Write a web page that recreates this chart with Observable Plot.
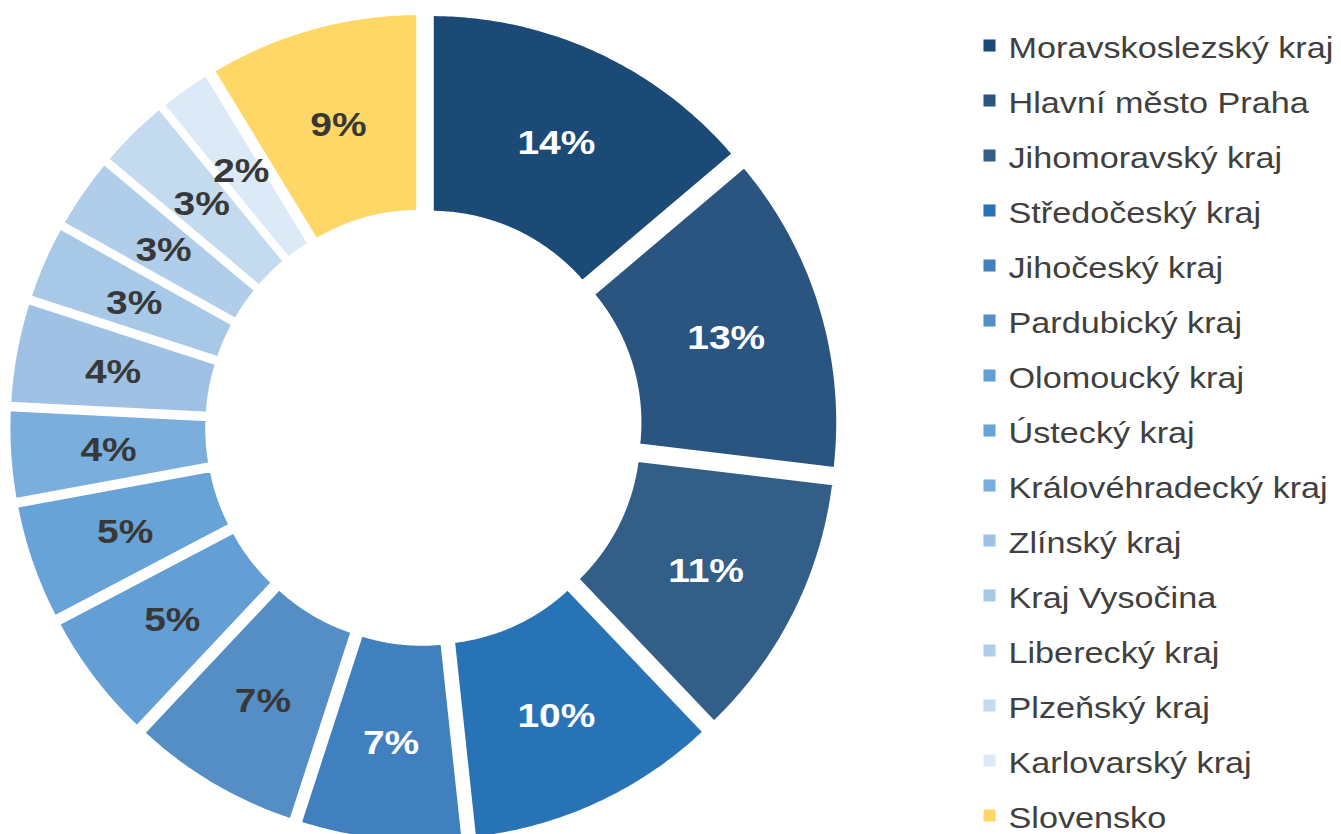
<!DOCTYPE html>
<html>
<head>
<meta charset="utf-8">
<script src="https://cdn.jsdelivr.net/npm/d3@7"></script>
<script src="https://cdn.jsdelivr.net/npm/@observablehq/plot@0.6"></script>
<style>
  html, body { margin: 0; padding: 0; background: #ffffff; }
  #chart { position: relative; width: 1341px; height: 834px; overflow: hidden; }
  #donut { position: absolute; left: 0; top: 0; }
  #legend { position: absolute; left: 975px; top: 0; }
  svg { overflow: visible; }
</style>
</head>
<body>
<div id="chart"><div id="donut"></div><div id="legend"></div></div>
<script>
// ---- data ----
const regions = [
  "Moravskoslezský kraj", "Hlavní město Praha", "Jihomoravský kraj", "Středočeský kraj",
  "Jihočeský kraj", "Pardubický kraj", "Olomoucký kraj", "Ústecký kraj",
  "Královéhradecký kraj", "Zlínský kraj", "Kraj Vysočina", "Liberecký kraj",
  "Plzeňský kraj", "Karlovarský kraj", "Slovensko"
];
const shares = [13.8, 13.1, 11.0, 10.4, 6.7, 7.0, 5.3, 4.8, 3.7, 4.2, 3.1, 3.0, 3.0, 2.2, 8.7];
const pctLabels = ["14%", "13%", "11%", "10%", "7%", "7%", "5%", "5%", "4%", "4%", "3%", "3%", "3%", "2%", "9%"];
const colors = [
  "#1c4a77", "#2a5580", "#335e87", "#2873b6", "#4180bf", "#558ec5", "#639fd4", "#68a3d7",
  "#7aaedd", "#9fc2e4", "#a7c8e7", "#b0cee9", "#c3daef", "#dce9f6", "#fed766"
];

// ---- geometry settings ----
const R_OUT = 1, R_IN = 0.4975, EXPLODE = 0.0445, GAP = 5.3;
const R_LAB = (R_OUT + R_IN) / 2;
const FONT = '"Liberation Sans", Arial, Helvetica, sans-serif';

const total = d3.sum(shares);
let acc = 0;
const slices = regions.map((name, i) => {
  const a0 = acc / total * 2 * Math.PI;
  acc += shares[i];
  const a1 = acc / total * 2 * Math.PI;
  const mid = (a0 + a1) / 2;
  return {
    name, a0, a1, mid,
    ox: EXPLODE * Math.sin(mid), oy: EXPLODE * Math.cos(mid),
    label: pctLabels[i],
    dark: d3.lab(colors[i]).l < 55
  };
});

const ring = slices.flatMap(s => {
  const n = Math.max(6, Math.ceil((s.a1 - s.a0) / (Math.PI / 360)));
  const pts = [];
  for (let k = 0; k <= n; k++) {
    const a = s.a0 + (s.a1 - s.a0) * k / n;
    pts.push({name: s.name, x: s.ox + R_OUT * Math.sin(a), y: s.oy + R_OUT * Math.cos(a)});
  }
  for (let k = n; k >= 0; k--) {
    const a = s.a0 + (s.a1 - s.a0) * k / n;
    pts.push({name: s.name, x: s.ox + R_IN * Math.sin(a), y: s.oy + R_IN * Math.cos(a)});
  }
  pts.push({...pts[0]});
  return pts;
});

const labX = d => d.ox + R_LAB * Math.sin(d.mid);
const labY = d => d.oy + R_LAB * Math.cos(d.mid);

const donut = Plot.plot({
  width: 960, height: 834,
  marginLeft: 25, marginRight: 138.6, marginTop: 29, marginBottom: 9,
  x: {domain: [-1, 1], axis: null},
  y: {domain: [-1, 1], axis: null},
  color: {domain: regions, range: colors},
  style: {fontFamily: FONT, background: "transparent"},
  marks: [
    Plot.line(ring, {
      x: "x", y: "y", z: "name", fill: "name",
      stroke: "white", strokeWidth: GAP, strokeLinejoin: "miter", strokeLinecap: "butt", strokeMiterlimit: 4
    }),
    Plot.text(slices, {
      filter: d => d.dark, x: labX, y: labY, text: "label",
      fill: "white", fontSize: 33, fontWeight: "bold", dy: 2
    }),
    Plot.text(slices, {
      filter: d => !d.dark, x: labX, y: labY, text: "label",
      fill: "#383838", fontSize: 33, fontWeight: "bold", dy: 2
    })
  ]
});

const legend = Plot.plot({
  width: 366, height: 834, margin: 0,
  x: {domain: [0, 1], axis: null},
  y: {type: "point", domain: regions, range: [40, 819], padding: 0, axis: null},
  color: {domain: regions, range: colors},
  style: {fontFamily: FONT, background: "transparent"},
  marks: [
    Plot.dot(regions, {y: d => d, fill: d => d, symbol: "square", r: 6.8, frameAnchor: "left", dx: 14}),
    Plot.text(regions, {
      y: d => d, text: d => d, frameAnchor: "left", textAnchor: "start",
      dx: 33, dy: 3, fontSize: 30, fill: "#404040"
    })
  ]
});

function stretchText(svg, factor) {
  svg.querySelectorAll("text").forEach(t => {
    const tr = t.getAttribute("transform");
    if (tr && tr.includes("translate")) {
      t.setAttribute("transform", `${tr} scale(${factor},1)`);
    } else {
      const x = parseFloat(t.getAttribute("x"));
      if (!isNaN(x)) {
        t.setAttribute("x", 0);
        t.setAttribute("transform", `translate(${x},0) scale(${factor},1)`);
      }
    }
  });
}
stretchText(donut, 1.18);
stretchText(legend, 1.14);

document.getElementById("donut").appendChild(donut);
document.getElementById("legend").appendChild(legend);
</script>
</body>
</html>
